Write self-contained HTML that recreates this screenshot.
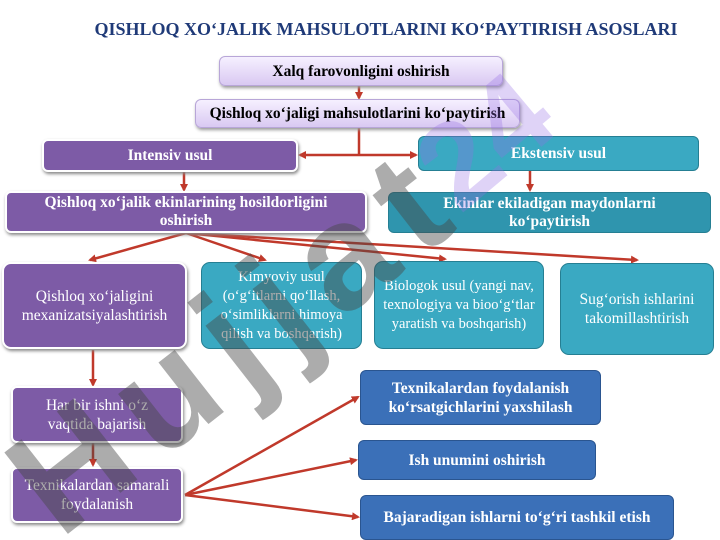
<!DOCTYPE html>
<html style="overflow:hidden;width:720px;height:540px"><head><meta charset="utf-8"><style>
body{margin:0;width:720px;height:540px;background:#fff;position:relative;overflow:hidden;font-family:"Liberation Serif",serif}
.b{position:absolute;box-sizing:border-box;display:flex;align-items:center;justify-content:center;text-align:center;border-radius:6px;font-size:15.5px;line-height:19px;color:#fff;padding:0 3px}
.l{background:linear-gradient(#f6f0ff,#d9c9f2);color:#000;font-weight:bold;border:1px solid #b8a6d8;box-shadow:1px 2px 3px #999}
.p{background:#7d5ba6;border:2px solid #fff;box-shadow:1px 2px 3px #888}
.t{background:#3aa9c2;border:1px solid #257f93}
.u{background:#3b70b8;border:1px solid #2a5590;font-weight:bold}
.bold{font-weight:bold}
</style></head><body>
<div style="position:absolute;left:0;width:772px;top:19px;text-align:center;font-weight:bold;font-size:18px;color:#1f3a78">QISHLOQ XO‘JALIK MAHSULOTLARINI KO‘PAYTIRISH ASOSLARI</div>
<svg width="720" height="540" style="position:absolute;left:0;top:0">
<defs><marker id="a" markerWidth="8" markerHeight="8" refX="6" refY="4" orient="auto" markerUnits="userSpaceOnUse"><path d="M0,0L8,4L0,8z" fill="#c0392b"/></marker></defs>
<g stroke="#c0392b" stroke-width="2.5" fill="none" marker-end="url(#a)">
<line x1="359" y1="86" x2="359" y2="98"/>
<line x1="359" y1="127" x2="359" y2="155" marker-end="none"/>
<line x1="359" y1="155" x2="300" y2="155"/>
<line x1="359" y1="155" x2="416" y2="155"/>
<line x1="184" y1="172" x2="184" y2="190"/>
<line x1="530" y1="171" x2="530" y2="190"/>
<line x1="186" y1="233" x2="90" y2="260"/>
<line x1="186" y1="233" x2="265" y2="260"/>
<line x1="186" y1="233" x2="445" y2="259"/>
<line x1="186" y1="233" x2="637" y2="260"/>
<line x1="93" y1="350" x2="93" y2="385"/>
<line x1="93" y1="443" x2="93" y2="465"/>
<line x1="185" y1="495" x2="358" y2="397"/>
<line x1="185" y1="495" x2="356" y2="460"/>
<line x1="185" y1="495" x2="358" y2="517"/>
</g></svg>
<div class="b l" style="left:219px;top:56px;width:284px;height:30px">Xalq farovonligini oshirish</div>
<div class="b l" style="left:195px;top:99px;width:325px;height:29px">Qishloq xo‘jaligi mahsulotlarini ko‘paytirish</div>
<div class="b p bold" style="left:42px;top:139px;width:256px;height:33px">Intensiv usul</div>
<div class="b t bold" style="left:418px;top:136px;width:281px;height:35px;align-items:flex-start;padding-top:7px">Ekstensiv usul</div>
<div class="b p bold" style="left:5px;top:191px;width:362px;height:42px;padding:0 28px;line-height:18px">Qishloq xo‘jalik ekinlarining hosildorligini oshirish</div>
<div class="b t bold" style="left:388px;top:192px;width:323px;height:41px;background:#2f95ae;padding:0 45px;line-height:18px">Ekinlar ekiladigan maydonlarni ko‘paytirish</div>
<div class="b p" style="left:2px;top:262px;width:185px;height:87px;border-radius:9px">Qishloq xo‘jaligini mexanizatsiyalashtirish</div>
<div class="b t" style="left:201px;top:262px;width:161px;height:87px;border-radius:9px;font-size:14.5px">Kimyoviy usul (o‘g‘itlarni qo‘llash, o‘simliklarni himoya qilish va boshqarish)</div>
<div class="b t" style="left:374px;top:261px;width:170px;height:88px;border-radius:9px;font-size:14.5px">Biologok usul (yangi nav, texnologiya va bioo‘g‘tlar yaratish va boshqarish)</div>
<div class="b t" style="left:560px;top:263px;width:154px;height:92px;border-radius:9px">Sug‘orish ishlarini takomillashtirish</div>
<div class="b p" style="left:11px;top:386px;width:172px;height:57px;padding:0 25px">Har bir ishni o‘z vaqtida bajarish</div>
<div class="b p" style="left:11px;top:467px;width:172px;height:56px">Texnikalardan samarali foydalanish</div>
<div class="b u" style="left:360px;top:370px;width:241px;height:55px">Texnikalardan foydalanish ko‘rsatgichlarini yaxshilash</div>
<div class="b u" style="left:358px;top:440px;width:238px;height:40px">Ish unumini oshirish</div>
<div class="b u" style="left:360px;top:495px;width:314px;height:45px">Bajaradigan ishlarni to‘g‘ri tashkil etish</div>
<svg width="720" height="540" style="position:absolute;left:0;top:0;overflow:hidden;pointer-events:none">
<text x="0" y="0" transform="translate(60,540) rotate(-38)" font-family="Liberation Sans, sans-serif" font-weight="bold" font-size="150" letter-spacing="18" fill="rgba(70,70,70,0.45)">Hujjat</text>
<text x="0" y="0" transform="translate(460,215) rotate(-40)" font-family="Liberation Sans, sans-serif" font-weight="bold" font-size="120" fill="rgba(150,110,230,0.3)">24</text>
</svg>
</body></html>
